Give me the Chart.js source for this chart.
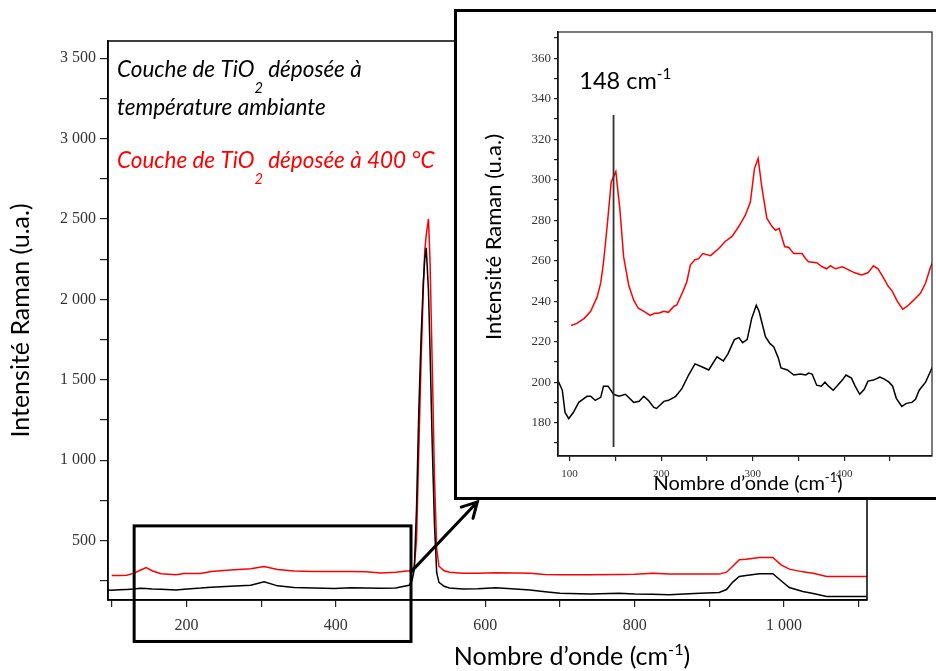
<!DOCTYPE html>
<html lang="fr">
<head>
<meta charset="utf-8">
<title>Spectres Raman TiO2</title>
<script src="https://cdn.jsdelivr.net/npm/chart.js@4.4.0/dist/chart.umd.min.js"></script>
<style>
  body { margin: 0; background: #fff; }
  #wrap { position: relative; width: 936px; height: 671px; overflow: hidden; }
  #mainChart { position: absolute; left: 0; top: 0; }
  #insetBox { position: absolute; left: 454px; top: 9px; width: 500px; height: 491px;
              border: 3px solid #000; box-sizing: border-box; background: #fff; }
  #insetChart { display: block; }
</style>
</head>
<body>
<div id="wrap">
  <canvas id="mainChart" width="936" height="671"></canvas>
  <div id="insetBox"><canvas id="insetChart" width="484" height="485"></canvas></div>
</div>
<script>
// full spectrum (cm-1) and intensities (u.a.)
const mainWavenumbers = [95, 100, 110, 120, 130, 138, 146, 154, 166, 186, 197, 219, 233, 259, 286, 304, 322, 344, 370, 398,
  420, 440, 460, 480, 498, 502, 505, 508, 511, 514, 517, 519, 521, 524, 526, 529, 532, 535, 538, 545,
  552, 570, 590, 614, 640, 660, 680, 700, 740, 779, 800, 824, 846, 880, 913, 923, 931, 940, 949, 967,
  985, 996, 1007, 1025, 1039, 1057, 1080, 1111];
const mainAmbient = [192, 190, 194, 196, 198, 203, 201, 198, 197, 192, 197, 204, 210, 216, 222, 243, 218, 208, 204, 201,
  206, 204, 203, 204, 222, 250, 320, 700, 1300, 1750, 2100, 2250, 2320, 2050, 1700, 1100, 600, 300, 240, 215,
  205, 198, 200, 206, 198, 192, 182, 172, 168, 172, 167, 165, 163, 170, 177, 195, 240, 276, 282, 293,
  293, 250, 208, 183, 170, 152, 152, 152];
const mainHot = [null, 282, 282, 284, 297, 315, 332, 312, 293, 287, 295, 295, 307, 316, 324, 338, 320, 310, 308, 307,
  307, 305, 298, 303, 312, 320, 340, 500, 1050, 1600, 2050, 2300, 2400, 2500, 2250, 1600, 900, 450, 340, 312,
  303, 297, 297, 299, 298, 297, 289, 287, 287, 288, 290, 297, 291, 291, 291, 303, 338, 380, 383, 394,
  394, 349, 322, 305, 297, 276, 276, 276];

// zoom 100-500 cm-1
const insetAmbientWavenumbers = [87, 92, 95, 99, 104, 110, 119, 123, 128, 134, 137, 142, 148, 154, 161, 170, 176, 181, 186, 192,
  195, 203, 208, 216, 223, 230, 237, 245, 252, 261, 268, 273, 280, 285, 289, 294, 299, 304, 307, 314,
  319, 323, 328, 331, 338, 345, 352, 358, 361, 365, 370, 375, 379, 383, 388, 392, 398, 402, 408, 412,
  417, 422, 426, 432, 439, 444, 449, 453, 457, 463, 468, 474, 478, 482, 489, 494, 497];
const insetAmbient = [201, 196, 185, 182, 185, 190, 193, 193, 191, 192.5, 198, 198, 194, 193, 194, 190, 190.5, 193, 191, 187.5,
  187, 190.5, 191, 193, 197, 203.5, 209, 207.5, 206, 212.5, 210.5, 214, 221, 222, 219.5, 221, 231.5, 238, 235, 222.5,
  219, 217.5, 212, 207, 206, 203.5, 204, 203.5, 204.5, 204, 198.5, 198, 200, 198, 196, 198, 201, 203.5, 202, 198,
  194, 196.5, 200.5, 201, 202.5, 201.5, 200, 198, 192, 188, 189.5, 190, 191.5, 196, 200, 205, 208];
const insetHotWavenumbers = [101.5, 108, 116, 123, 130, 134, 137, 141, 145.5, 150.5, 155, 159, 164.5, 170, 175, 183, 188, 193, 197, 203,
  208, 214, 217, 223, 228, 232, 237, 241, 245.5, 254, 263, 270, 277.5, 285, 292, 297.5, 302, 306, 310, 315.5,
  321, 325, 329, 335, 339.5, 345, 354, 358, 361, 370, 376, 381, 385, 390.5, 398, 405, 411.5, 419, 426, 432,
  437, 443, 448, 452.5, 458, 464, 469, 476, 483.5, 489, 494.5, 497];
const insetHot = [228, 229, 231.5, 235, 242, 249, 259, 277, 299, 304, 285, 262, 248, 240.5, 236.5, 234.5, 233, 234, 234, 235,
  234.5, 237.5, 238, 244, 249.5, 258, 260.5, 261, 263.5, 262.5, 266, 269.5, 272, 277, 282.5, 289, 305.5, 310.5, 296.5, 281,
  277, 275, 276, 267, 266.5, 263.5, 263.5, 261, 259.5, 259, 257, 256, 257.5, 256, 257, 255.5, 254, 253, 254, 257.5,
  256, 251.5, 247.5, 245, 240, 236, 237.5, 240.5, 244, 249, 257, 259.5];

// ticks
const mainXTicks = [100, 200, 300, 400, 500, 600, 700, 800, 900, 1000, 1100];
const mainXLabels = [200, 400, 600, 800, 1000];
const mainYTicks = [250, 500, 750, 1000, 1250, 1500, 1750, 2000, 2250, 2500, 2750, 3000, 3250, 3500];
const mainYLabels = [500, 1000, 1500, 2000, 2500, 3000, 3500];
const insetXTicks = [100, 150, 200, 250, 300, 350, 400, 450];
const insetXLabels = [100, 200, 300, 400];
const insetYTicks = [170, 180, 190, 200, 210, 220, 230, 240, 250, 260, 270, 280, 290, 300, 310, 320, 330, 340, 350, 360, 370];
const insetYLabels = [180, 200, 220, 240, 260, 280, 300, 320, 340, 360];

// annotations, in data units
const zoomBox = { xMin: 130, xMax: 500.6, yMin: -128, yMax: 591 };
const zoomArrow = { x0: 500.6, y0: 305, x1: 589.4, y1: 740 };
const peakMark = { x: 148, yMin: 168, yMax: 332 };
const peakLabel = { x: 110.6, y: 344.7 };

const AMBIENT_COLOR = "#000000";
const HOT_COLOR = "#ff0000";
const SANS = "Lato, 'Open Sans', sans-serif";
const SERIF = "'Liberation Serif', 'DejaVu Serif', serif";

const fmt = v => String(v).replace(/\B(?=(\d{3})+(?!\d))/g, " ");
const toPoints = (xs, ys) => xs.map((x, i) => ({ x: x, y: ys[i] }));

// text with sub/superscript parts
function drawRich(ctx, parts, x, y, size, style, color, align) {
  ctx.fillStyle = color;
  ctx.textBaseline = "alphabetic";
  ctx.textAlign = "left";
  let widths = parts.map(p => {
    ctx.font = style + " " + (p.small ? size * 0.65 : size) + "px " + SANS;
    return ctx.measureText(p.t).width;
  });
  let total = widths.reduce((a, b) => a + b, 0);
  let cx = align === "center" ? x - total / 2 : x;
  parts.forEach((p, i) => {
    ctx.font = style + " " + (p.small ? size * 0.65 : size) + "px " + SANS;
    ctx.fillText(p.t, cx, y + (p.dy || 0) * size);
    cx += widths[i];
  });
}

const waveTitle = [{ t: "Nombre d\u2019onde (cm" }, { t: "-1", small: true, dy: -0.42 }, { t: ")" }];

const mainDecor = {
  id: "mainDecor",
  afterDraw(chart) {
    const { ctx, chartArea: a, scales: { x, y } } = chart;
    ctx.save();
    ctx.strokeStyle = "#000";
    ctx.lineWidth = 1.5;
    ctx.strokeRect(a.left, a.top, a.right - a.left, a.bottom - a.top);

    // zoom rectangle
    const bx0 = x.getPixelForValue(zoomBox.xMin), bx1 = x.getPixelForValue(zoomBox.xMax);
    const by0 = y.getPixelForValue(zoomBox.yMax), by1 = y.getPixelForValue(zoomBox.yMin);
    ctx.lineWidth = 3;
    ctx.strokeRect(bx0, by0, bx1 - bx0, by1 - by0);

    // arrow
    const ax0 = x.getPixelForValue(zoomArrow.x0), ay0 = y.getPixelForValue(zoomArrow.y0);
    const ax1 = x.getPixelForValue(zoomArrow.x1), ay1 = y.getPixelForValue(zoomArrow.y1);
    const ang = Math.atan2(ay1 - ay0, ax1 - ax0);
    ctx.lineWidth = 3;
    ctx.lineCap = "round";
    ctx.beginPath();
    ctx.moveTo(ax0, ay0);
    ctx.lineTo(ax1, ay1);
    ctx.moveTo(ax1 - 17 * Math.cos(ang - 0.5), ay1 - 17 * Math.sin(ang - 0.5));
    ctx.lineTo(ax1, ay1);
    ctx.lineTo(ax1 - 17 * Math.cos(ang + 0.5), ay1 - 17 * Math.sin(ang + 0.5));
    ctx.stroke();

    // legend
    const lx = a.left + 9;
    drawRich(ctx, [{ t: "Couche de TiO" }, { t: "2", small: true, dy: 0.7 }, { t: " déposée à" }],
      lx, a.top + 36, 22.5, "italic", AMBIENT_COLOR, "left");
    drawRich(ctx, [{ t: "température ambiante" }], lx, a.top + 74, 22.5, "italic", AMBIENT_COLOR, "left");
    drawRich(ctx, [{ t: "Couche de TiO" }, { t: "2", small: true, dy: 0.7 }, { t: " déposée à 400 °C" }],
      lx, a.top + 127, 22.5, "italic", HOT_COLOR, "left");

    // axis titles
    drawRich(ctx, waveTitle, 572, 665, 25, "normal", "#000", "center");
    ctx.translate(29, (a.top + a.bottom) / 2);
    ctx.rotate(-Math.PI / 2);
    drawRich(ctx, [{ t: "Intensité Raman (u.a.)" }], 0, 0, 25, "normal", "#000", "center");
    ctx.restore();
  }
};

const insetDecor = {
  id: "insetDecor",
  afterDraw(chart) {
    const { ctx, chartArea: a, scales: { x, y } } = chart;
    ctx.save();
    ctx.strokeStyle = "#222";
    ctx.lineWidth = 1.2;
    ctx.strokeRect(a.left, a.top, a.right - a.left, a.bottom - a.top);

    const px = x.getPixelForValue(peakMark.x);
    ctx.strokeStyle = "#333";
    ctx.lineWidth = 1.8;
    ctx.beginPath();
    ctx.moveTo(px, y.getPixelForValue(peakMark.yMax));
    ctx.lineTo(px, y.getPixelForValue(peakMark.yMin));
    ctx.stroke();

    drawRich(ctx, [{ t: "148 cm" }, { t: "-1", small: true, dy: -0.45 }],
      x.getPixelForValue(peakLabel.x), y.getPixelForValue(peakLabel.y), 23.5, "normal", "#000", "left");

    drawRich(ctx, waveTitle, (a.left + a.right) / 2 + 3, 478, 20, "normal", "#000", "center");
    ctx.translate(44, 225);
    ctx.rotate(-Math.PI / 2);
    drawRich(ctx, [{ t: "Intensité Raman (u.a.)" }], 0, 0, 22, "normal", "#000", "center");
    ctx.restore();
  }
};

function axis(opts) {
  return {
    type: "linear",
    min: opts.min,
    max: opts.max,
    afterBuildTicks: s => { s.ticks = opts.ticks.map(v => ({ value: v })); },
    afterFit: opts.fit,
    grid: { drawOnChartArea: false, drawTicks: true, tickLength: opts.tickLength, color: "#222", lineWidth: 1.2 },
    border: { display: true, color: "#000", width: 1.5 },
    ticks: {
      autoSkip: false,
      maxRotation: 0,
      padding: opts.padding,
      color: "#333",
      font: { family: SERIF, size: opts.fontSize },
      callback: v => opts.labels.includes(v) ? fmt(v) : ""
    }
  };
}

new Chart(document.getElementById("mainChart").getContext("2d"), {
  type: "line",
  data: {
    datasets: [
      { label: "Couche de TiO2 déposée à température ambiante", data: toPoints(mainWavenumbers, mainAmbient),
        borderColor: AMBIENT_COLOR, borderWidth: 1.5, pointRadius: 0, tension: 0 },
      { label: "Couche de TiO2 déposée à 400 °C", data: toPoints(mainWavenumbers, mainHot),
        borderColor: HOT_COLOR, borderWidth: 1.5, pointRadius: 0, tension: 0 }
    ]
  },
  options: {
    responsive: false,
    animation: false,
    layout: { padding: { left: 0, top: 41, right: 69, bottom: 0 } },
    plugins: { legend: { display: false }, tooltip: { enabled: false } },
    scales: {
      x: axis({ min: 95, max: 1111, ticks: mainXTicks, labels: mainXLabels, tickLength: 7, padding: 9, fontSize: 16,
                fit: s => { s.height = 71; } }),
      y: axis({ min: 130, max: 3607, ticks: mainYTicks, labels: mainYLabels, tickLength: 8, padding: 4, fontSize: 16,
                fit: s => { s.width = 108; } })
    }
  },
  plugins: [mainDecor]
});

new Chart(document.getElementById("insetChart").getContext("2d"), {
  type: "line",
  data: {
    datasets: [
      { label: "ambiante", data: toPoints(insetAmbientWavenumbers, insetAmbient),
        borderColor: AMBIENT_COLOR, borderWidth: 1.5, pointRadius: 0, tension: 0 },
      { label: "400 °C", data: toPoints(insetHotWavenumbers, insetHot),
        borderColor: HOT_COLOR, borderWidth: 1.5, pointRadius: 0, tension: 0 }
    ]
  },
  options: {
    responsive: false,
    animation: false,
    layout: { padding: { left: 0, top: 20, right: 9, bottom: 0 } },
    plugins: { legend: { display: false }, tooltip: { enabled: false } },
    scales: {
      x: axis({ min: 87.3, max: 496, ticks: insetXTicks, labels: insetXLabels, tickLength: 5, padding: 7, fontSize: 11,
                fit: s => { s.height = 41; } }),
      y: axis({ min: 163.5, max: 373, ticks: insetYTicks, labels: insetYLabels, tickLength: 4, padding: 3, fontSize: 13,
                fit: s => { s.width = 101; } })
    }
  },
  plugins: [insetDecor]
});
</script>
</body>
</html>
